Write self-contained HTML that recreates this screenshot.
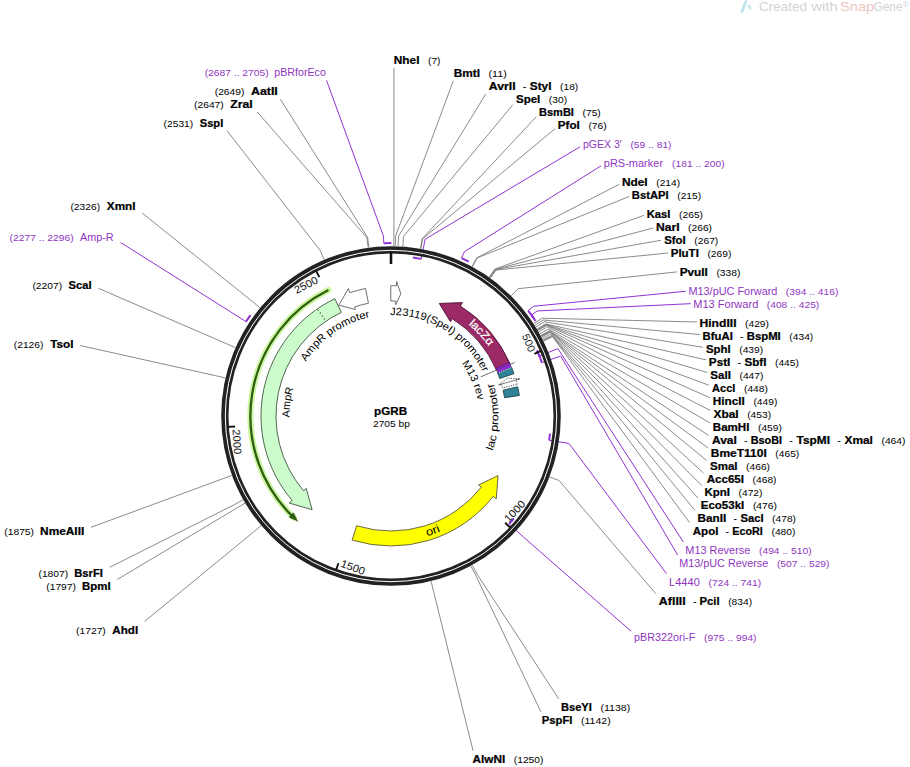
<!DOCTYPE html>
<html><head><meta charset="utf-8"><title>pGRB</title>
<style>html,body{margin:0;padding:0;background:#fff;width:910px;height:767px;overflow:hidden}
svg{display:block;font-family:"Liberation Sans",sans-serif}</style></head>
<body>
<svg width="910" height="767" viewBox="0 0 910 767">
<rect width="910" height="767" fill="#fff"/>
<g>
<path d="M740.2,12.6 L743.2,12.6 L747.6,0.4 L744.8,0.4 Z" fill="#bfe2ee"/>
<path d="M747.4,5.6 L749.2,4.2 L751.6,8.2 L750.2,10.8 Z" fill="#c6e6f1"/>
<text x="759.01" y="11.2" font-size="12.6" fill="#d4d4d4" textLength="48.06" lengthAdjust="spacingAndGlyphs">Created</text>
<text x="811.22" y="11.2" font-size="12.6" fill="#d4d4d4" textLength="26.55" lengthAdjust="spacingAndGlyphs">with</text>
<text x="840.14" y="11.2" font-size="12.6" fill="#ecc4c4" textLength="33.97" lengthAdjust="spacingAndGlyphs">Snap</text>
<text x="873.4" y="11.2" font-size="12.6" fill="#d4d4d4" textLength="29.13" lengthAdjust="spacingAndGlyphs">Gene</text>
<text x="902.8" y="6.6" font-size="8" fill="#d4d4d4">&#174;</text>
</g>
<g fill="none" stroke="#767676" stroke-width="0.85">
<path d="M393.76,246.02 L393.93,236.02 L393.93,67.8"/>
<path d="M395.34,246.06 L395.6,236.06 L453.34,80.8"/>
<path d="M398.11,246.15 L398.52,236.16 L485.88,93.8"/>
<path d="M402.84,246.41 L403.53,236.44 L512.8,104.82"/>
<path d="M420.47,248.57 L422.2,238.72 L536.2,116.88"/>
<path d="M420.85,248.64 L422.61,238.8 L555.1,128.67"/>
<path d="M472.07,266.57 L476.83,257.78 L619.2,184.34"/>
<path d="M472.41,266.76 L477.2,257.98 L629.1,196.53"/>
<path d="M489.16,277.2 L494.93,269.04 L643.9,215.38"/>
<path d="M489.48,277.43 L495.27,269.28 L653.3,228.04"/>
<path d="M489.8,277.66 L495.61,269.52 L661,240.27"/>
<path d="M490.44,278.12 L496.29,270.01 L668,253.04"/>
<path d="M511.17,295.76 L518.24,288.68 L677,271.88"/>
<path d="M533.73,323.65 L542.12,318.21 L696.8,321.97"/>
<path d="M534.79,325.31 L543.25,319.98 L699.9,334.59"/>
<path d="M535.83,326.99 L544.35,321.75 L702.8,347.22"/>
<path d="M537.06,329.01 L545.65,323.9 L706.1,359.87"/>
<path d="M537.46,329.69 L546.08,324.62 L707.2,372.47"/>
<path d="M537.66,330.03 L546.29,324.98 L708.8,385.16"/>
<path d="M537.86,330.37 L546.5,325.34 L710.1,397.77"/>
<path d="M538.65,331.74 L547.34,326.79 L710.1,410.38"/>
<path d="M539.81,333.81 L548.56,328.97 L710.1,423"/>
<path d="M540.75,335.54 L549.56,330.81 L708.8,435.58"/>
<path d="M540.94,335.89 L549.76,331.18 L708.1,448.04"/>
<path d="M541.13,336.24 L549.96,331.55 L706.8,460.58"/>
<path d="M541.5,336.94 L550.35,332.29 L703.5,473.05"/>
<path d="M542.22,338.34 L551.12,333.77 L701.8,485.56"/>
<path d="M542.94,339.75 L551.88,335.26 L698,497.98"/>
<path d="M543.29,340.45 L552.25,336.01 L694.9,510.38"/>
<path d="M543.64,341.16 L552.62,336.76 L689.6,522.64"/>
<path d="M549.71,476.91 L559.05,480.49 L655.7,593.57"/>
<path d="M472.24,565.33 L477.02,574.12 L558.79,698.9"/>
<path d="M470.85,566.08 L475.55,574.91 L540.92,711.8"/>
<path d="M431.09,581.2 L433.45,590.92 L473.04,750.7"/>
<path d="M261.08,525.63 L253.43,532.08 L144.53,621.5"/>
<path d="M245.04,503.16 L236.46,508.28 L117.4,579.42"/>
<path d="M243.06,499.74 L234.35,504.67 L109.7,567.32"/>
<path d="M231.73,475.43 L222.36,478.93 L91,527.3"/>
<path d="M225.32,377.92 L215.57,375.68 L80.2,345.52"/>
<path d="M235.36,347.61 L226.21,343.58 L98.4,288.31"/>
<path d="M259.94,307.73 L252.23,301.36 L142.3,213.13"/>
<path d="M324.15,259.7 L320.21,250.5 L227.11,130.8"/>
<path d="M368.17,247.54 L366.82,237.63 L257.31,112"/>
<path d="M368.95,247.44 L367.65,237.52 L280.36,99.2"/>
</g>
<g fill="none" stroke="#8f33d2" stroke-width="1">
<path d="M421.29,258.89 L425.08,239.26 L580.1,146.78"/>
<path d="M461.61,258.07 L464.47,251.68 L601,165.86"/>
<path d="M528.13,310.53 L533.68,306.26 L685.8,291.24"/>
<path d="M531.49,315.05 L537.17,310.96 L690.7,303.66"/>
<path d="M539.36,356.08 L557.9,348.59 L683.34,542"/>
<path d="M541.86,362.69 L560.71,356.02 L677.69,555.1"/>
<path d="M549.14,440.34 L568.9,443.38 L666.5,573.66"/>
<path d="M509.11,523.93 L523.88,537.42 L631.2,631.29"/>
<path d="M245.97,321.68 L240.11,317.86 L120.6,242.49"/>
<path d="M383.77,243.15 L383.48,236.16 L326.51,80.4"/>
</g>
<circle cx="391" cy="416" r="166.15" fill="none" stroke="#222" stroke-width="7.3"/>
<circle cx="391" cy="416" r="165.7" fill="none" stroke="#fff" stroke-width="1.0"/>
<g fill="none" stroke="#8f33d2" stroke-width="2">
<path d="M412.86,257.5 A160,160 0 0 1 421.29,258.89"/>
<path d="M461.61,258.07 A173,173 0 0 1 468.87,261.52"/>
<path d="M528.13,310.53 A173,173 0 0 1 533.57,318"/>
<path d="M531.49,315.05 A173,173 0 0 1 535.59,321.01"/>
<path d="M536.88,350.27 A160,160 0 0 1 539.36,356.08"/>
<path d="M538.79,354.71 A160,160 0 0 1 541.86,362.69"/>
<path d="M550.02,433.71 A160,160 0 0 1 549.14,440.34"/>
<path d="M514,518.33 A160,160 0 0 1 509.11,523.93"/>
<path d="M245.97,321.68 A173,173 0 0 1 250.51,315.05"/>
<path d="M383.77,243.15 A173,173 0 0 1 391.4,243"/>
</g>
<g stroke="#111" fill="none">
<path d="M391,252 L391,264" stroke-width="2.6"/>
<path d="M540.99,350.92 L534.38,353.78" stroke-width="1.9"/>
<path d="M510.41,527.69 L505.15,522.77" stroke-width="1.9"/>
<path d="M336.07,570 L338.49,563.22" stroke-width="1.9"/>
<path d="M227.86,426.91 L235.05,426.43" stroke-width="1.9"/>
<path d="M316.05,270.69 L319.35,277.09" stroke-width="1.9"/>
</g>
<text transform="translate(533.56,354.14) rotate(66.54)" x="-21.5" y="3.6" font-size="10.6" fill="#111" textLength="18.53" lengthAdjust="spacingAndGlyphs">500</text>
<text transform="translate(504.49,522.15) rotate(-46.91)" x="2.54" y="3.6" font-size="10.6" fill="#111" textLength="24.98" lengthAdjust="spacingAndGlyphs">1000</text>
<text transform="translate(338.79,562.37) rotate(19.63)" x="2.54" y="3.6" font-size="10.6" fill="#111" textLength="24.98" lengthAdjust="spacingAndGlyphs">1500</text>
<text transform="translate(235.95,426.37) rotate(86.17)" x="2.83" y="3.6" font-size="10.6" fill="#111" textLength="25.06" lengthAdjust="spacingAndGlyphs">2000</text>
<text transform="translate(319.77,277.89) rotate(-27.28)" x="-28.02" y="3.6" font-size="10.6" fill="#111" textLength="25.06" lengthAdjust="spacingAndGlyphs">2500</text>
<path d="M328.48,290.06 A140.6,140.6 0 0 0 293.68,517.48" fill="none" stroke="#c9f59c" stroke-width="6.2" stroke-linecap="round" opacity="0.95"/>
<path d="M328.48,290.06 A140.6,140.6 0 0 0 292.8,516.63" fill="none" stroke="#2f5e12" stroke-width="2.3"/>
<path d="M298.2,521.63 L293.48,512.51 L288.64,517.29 Z" fill="#2f5e12"/>
<path d="M334.83,298.76 A130,130 0 0 0 292.15,500.43 L289.11,503.03 L312.09,509.7 L306.21,488.41 L303.55,490.69 A115,115 0 0 1 341.31,312.29 Z" fill="#ccfccc" stroke="#3f553f" stroke-width="0.9" stroke-linejoin="miter"/>
<path d="M317.93,309.69 L325.3,320.4" stroke="#111" stroke-width="1.1" stroke-dasharray="1,2.6"/>
<path d="M365.53,288.52 A130,130 0 0 0 349.75,292.72 L348.35,288.55 L338.84,305.16 L355.37,309.5 L354.51,306.94 A115,115 0 0 1 368.47,303.23 Z" fill="#fff" stroke="#606060" stroke-width="0.9"/>
<path d="M390.77,285.7 A130.3,130.3 0 0 1 396.46,285.81 L396.64,281.42 L400.84,293.75 L395.66,304.7 L395.82,301.1 A115,115 0 0 0 390.8,301 Z" fill="#fff" stroke="#606060" stroke-width="0.9"/>
<path d="M510.13,363.95 A130,130 0 0 0 460.27,305.99 L462.41,302.61 L439.26,303.41 L450.42,321.65 L452.28,318.69 A115,115 0 0 1 496.38,369.96 Z" fill="#9c2a66" stroke="#4a1030" stroke-width="0.9"/>
<path d="M509.21,362.38 A129.8,129.8 0 0 1 511.35,367.38 L497.81,372.85 A115.2,115.2 0 0 0 495.91,368.41 Z" fill="#a023f0" stroke="#3a0a50" stroke-width="0.6"/>
<path d="M511.53,367.3 A130,130 0 0 1 513.92,373.68 L499.73,378.56 A115,115 0 0 0 497.63,372.92 Z" fill="#2f8497" stroke="#173844" stroke-width="0.8"/>
<path d="M511.15,367.7 L498.17,372.92" stroke="#fff" stroke-width="1.0" stroke-dasharray="1,1"/>
<path d="M517.67,386.76 A130,130 0 0 1 519.36,395.44 L504.55,397.81 A115,115 0 0 0 503.05,390.13 Z" fill="#2f8497" stroke="#173844" stroke-width="0.8"/>
<path d="M517.08,384.33 A130,130 0 0 0 515.9,379.95 L519.94,378.78 L507.5,378.15 L498.61,384.94 L501.49,384.11 A115,115 0 0 1 502.54,387.98 Z" fill="#fff" stroke="#222" stroke-width="0.9" stroke-dasharray="1,1.4"/>
<path d="M498.61,384.94 L519.94,378.78" stroke="#555" stroke-width="0.8"/>
<path d="M514.62,362.5 L480.8,376.77" stroke="#444" stroke-width="0.8"/>
<path d="M352.12,540.05 A130,130 0 0 0 493.16,496.39 L496.3,498.87 L498.04,475.58 L478.62,484.95 L481.37,487.12 A115,115 0 0 1 356.61,525.74 Z" fill="#ffff00" stroke="#5a5a3a" stroke-width="0.9"/>
<path id="t1" d="M305.91,361.58 A101,101 0 0 1 477.02,468.92" fill="none"/>
<text font-size="10.6" fill="#000"><textPath href="#t1" textLength="79.81" lengthAdjust="spacingAndGlyphs">AmpR promoter</textPath></text>
<path id="t2" d="M289.51,417.42 A101.5,101.5 0 0 1 492.45,412.81" fill="none"/>
<text font-size="10.6" fill="#000"><textPath href="#t2" textLength="30.03" lengthAdjust="spacingAndGlyphs">AmpR</textPath></text>
<path id="t3" d="M390.12,315 A101,101 0 0 1 393.64,516.97" fill="none"/>
<text font-size="10.6" fill="#000"><textPath href="#t3" textLength="115.04" lengthAdjust="spacingAndGlyphs">J23119(SpeI) promoter</textPath></text>
<path id="t4" d="M468.49,324.63 A119.8,119.8 0 0 1 315.12,508.71" fill="none"/>
<text font-size="11.45" fill="#fff" stroke="#fff" stroke-width="0.25"><textPath href="#t4" textLength="29.7" lengthAdjust="spacingAndGlyphs">lacZα</textPath></text>
<path id="t5" d="M461.65,363.53 A88,88 0 0 1 321.28,469.69" fill="none"/>
<text font-size="10.6" fill="#000"><textPath href="#t5" textLength="40.39" lengthAdjust="spacingAndGlyphs">M13 rev</textPath></text>
<path id="t6" d="M492.7,450.82 A107.5,107.5 0 0 0 289.92,379.41" fill="none"/>
<text font-size="10.6" fill="#000"><textPath href="#t6" textLength="69.05" lengthAdjust="spacingAndGlyphs">lac promoter</textPath></text>
<path id="t7" d="M427.3,536.24 A125.6,125.6 0 0 0 356.8,295.15" fill="none"/>
<text font-size="11.13" fill="#000"><textPath href="#t7" textLength="14.22" lengthAdjust="spacingAndGlyphs">ori</textPath></text>
<text x="374.03" y="414.8" font-size="11.55" font-weight="bold" stroke="#000" stroke-width="0.22" fill="#000" textLength="33.07" lengthAdjust="spacingAndGlyphs">pGRB</text>
<text x="372.99" y="427" font-size="9.54" fill="#000" textLength="36.98" lengthAdjust="spacingAndGlyphs">2705 bp</text>
<g font-family="Liberation Sans, sans-serif">
<text x="393.71" y="63.8" font-size="10.6" font-weight="bold" stroke="#000" stroke-width="0.22" fill="#000" textLength="25.74" lengthAdjust="spacingAndGlyphs">NheI</text>
<text x="428.02" y="63.8" font-size="9.54" fill="#000" textLength="12.47" lengthAdjust="spacingAndGlyphs">(7)</text>
<text x="453.71" y="76.8" font-size="10.6" font-weight="bold" stroke="#000" stroke-width="0.22" fill="#000" textLength="26.28" lengthAdjust="spacingAndGlyphs">BmtI</text>
<text x="488.57" y="76.8" font-size="9.54" fill="#000" textLength="18.2" lengthAdjust="spacingAndGlyphs">(11)</text>
<text x="488.8" y="89.8" font-size="10.6" font-weight="bold" stroke="#000" stroke-width="0.22" fill="#000" textLength="26.76" lengthAdjust="spacingAndGlyphs">AvrII</text>
<text x="522.78" y="89.8" font-size="10.6" fill="#000" textLength="3.59" lengthAdjust="spacingAndGlyphs">-</text>
<text x="529.75" y="89.8" font-size="10.6" font-weight="bold" stroke="#000" stroke-width="0.22" fill="#000" textLength="21.71" lengthAdjust="spacingAndGlyphs">StyI</text>
<text x="560.04" y="89.8" font-size="9.54" fill="#000" textLength="18.2" lengthAdjust="spacingAndGlyphs">(18)</text>
<text x="515.97" y="102.7" font-size="10.6" font-weight="bold" stroke="#000" stroke-width="0.22" fill="#000" textLength="24.33" lengthAdjust="spacingAndGlyphs">SpeI</text>
<text x="548.89" y="102.7" font-size="9.54" fill="#000" textLength="18.2" lengthAdjust="spacingAndGlyphs">(30)</text>
<text x="538.96" y="115.5" font-size="10.6" font-weight="bold" stroke="#000" stroke-width="0.22" fill="#000" textLength="34.97" lengthAdjust="spacingAndGlyphs">BsmBI</text>
<text x="582.56" y="115.5" font-size="9.54" fill="#000" textLength="18.2" lengthAdjust="spacingAndGlyphs">(75)</text>
<text x="557.82" y="128.6" font-size="10.6" font-weight="bold" stroke="#000" stroke-width="0.22" fill="#000" textLength="21.99" lengthAdjust="spacingAndGlyphs">PfoI</text>
<text x="588.4" y="128.6" font-size="9.54" fill="#000" textLength="18.2" lengthAdjust="spacingAndGlyphs">(76)</text>
<text x="582.92" y="148" font-size="10.6" fill="#9035c2" textLength="38.9" lengthAdjust="spacingAndGlyphs">pGEX 3'</text>
<text x="630.45" y="148" font-size="9.54" fill="#9035c2" textLength="41.1" lengthAdjust="spacingAndGlyphs">(59 .. 81)</text>
<text x="603.79" y="166.9" font-size="10.6" fill="#9035c2" textLength="59.27" lengthAdjust="spacingAndGlyphs">pRS-marker</text>
<text x="672.04" y="166.9" font-size="9.54" fill="#9035c2" textLength="52.55" lengthAdjust="spacingAndGlyphs">(181 .. 200)</text>
<text x="621.9" y="186" font-size="10.6" font-weight="bold" stroke="#000" stroke-width="0.22" fill="#000" textLength="25.78" lengthAdjust="spacingAndGlyphs">NdeI</text>
<text x="656.25" y="186" font-size="9.54" fill="#000" textLength="23.92" lengthAdjust="spacingAndGlyphs">(214)</text>
<text x="631.85" y="198.8" font-size="10.6" font-weight="bold" stroke="#000" stroke-width="0.22" fill="#000" textLength="36.8" lengthAdjust="spacingAndGlyphs">BstAPI</text>
<text x="677.27" y="198.8" font-size="9.54" fill="#000" textLength="23.92" lengthAdjust="spacingAndGlyphs">(215)</text>
<text x="646.65" y="217.9" font-size="10.6" font-weight="bold" stroke="#000" stroke-width="0.22" fill="#000" textLength="23.84" lengthAdjust="spacingAndGlyphs">KasI</text>
<text x="679.09" y="217.9" font-size="9.54" fill="#000" textLength="23.92" lengthAdjust="spacingAndGlyphs">(265)</text>
<text x="655.99" y="231.1" font-size="10.6" font-weight="bold" stroke="#000" stroke-width="0.22" fill="#000" textLength="23.55" lengthAdjust="spacingAndGlyphs">NarI</text>
<text x="688.09" y="231.1" font-size="9.54" fill="#000" textLength="23.92" lengthAdjust="spacingAndGlyphs">(266)</text>
<text x="664.17" y="243.8" font-size="10.6" font-weight="bold" stroke="#000" stroke-width="0.22" fill="#000" textLength="21.6" lengthAdjust="spacingAndGlyphs">SfoI</text>
<text x="694.37" y="243.8" font-size="9.54" fill="#000" textLength="23.92" lengthAdjust="spacingAndGlyphs">(267)</text>
<text x="670.73" y="257" font-size="10.6" font-weight="bold" stroke="#000" stroke-width="0.22" fill="#000" textLength="28.12" lengthAdjust="spacingAndGlyphs">PluTI</text>
<text x="707.44" y="257" font-size="9.54" fill="#000" textLength="23.92" lengthAdjust="spacingAndGlyphs">(269)</text>
<text x="679.71" y="275.8" font-size="10.6" font-weight="bold" stroke="#000" stroke-width="0.22" fill="#000" textLength="28.14" lengthAdjust="spacingAndGlyphs">PvuII</text>
<text x="716.43" y="275.8" font-size="9.54" fill="#000" textLength="23.92" lengthAdjust="spacingAndGlyphs">(338)</text>
<text x="688.41" y="295.2" font-size="10.6" fill="#9035c2" textLength="89" lengthAdjust="spacingAndGlyphs">M13/pUC Forward</text>
<text x="785.87" y="295.2" font-size="9.54" fill="#9035c2" textLength="52.55" lengthAdjust="spacingAndGlyphs">(394 .. 416)</text>
<text x="693.29" y="307.9" font-size="10.6" fill="#9035c2" textLength="65.01" lengthAdjust="spacingAndGlyphs">M13 Forward</text>
<text x="766.75" y="307.9" font-size="9.54" fill="#9035c2" textLength="52.55" lengthAdjust="spacingAndGlyphs">(408 .. 425)</text>
<text x="699.49" y="326.6" font-size="10.6" font-weight="bold" stroke="#000" stroke-width="0.22" fill="#000" textLength="37.02" lengthAdjust="spacingAndGlyphs">HindIII</text>
<text x="745.06" y="326.6" font-size="9.54" fill="#000" textLength="23.92" lengthAdjust="spacingAndGlyphs">(429)</text>
<text x="702.64" y="339.6" font-size="10.6" font-weight="bold" stroke="#000" stroke-width="0.22" fill="#000" textLength="30.23" lengthAdjust="spacingAndGlyphs">BfuAI</text>
<text x="740.13" y="339.6" font-size="10.6" fill="#000" textLength="3.59" lengthAdjust="spacingAndGlyphs">-</text>
<text x="746.68" y="339.6" font-size="10.6" font-weight="bold" stroke="#000" stroke-width="0.22" fill="#000" textLength="34.08" lengthAdjust="spacingAndGlyphs">BspMI</text>
<text x="789.37" y="339.6" font-size="9.54" fill="#000" textLength="23.92" lengthAdjust="spacingAndGlyphs">(434)</text>
<text x="705.97" y="352.6" font-size="10.6" font-weight="bold" stroke="#000" stroke-width="0.22" fill="#000" textLength="24.65" lengthAdjust="spacingAndGlyphs">SphI</text>
<text x="739.22" y="352.6" font-size="9.54" fill="#000" textLength="23.92" lengthAdjust="spacingAndGlyphs">(439)</text>
<text x="708.82" y="365.6" font-size="10.6" font-weight="bold" stroke="#000" stroke-width="0.22" fill="#000" textLength="21.51" lengthAdjust="spacingAndGlyphs">PstI</text>
<text x="737.56" y="365.6" font-size="10.6" fill="#000" textLength="3.59" lengthAdjust="spacingAndGlyphs">-</text>
<text x="744.54" y="365.6" font-size="10.6" font-weight="bold" stroke="#000" stroke-width="0.22" fill="#000" textLength="21.9" lengthAdjust="spacingAndGlyphs">SbfI</text>
<text x="775.03" y="365.6" font-size="9.54" fill="#000" textLength="23.92" lengthAdjust="spacingAndGlyphs">(445)</text>
<text x="710.37" y="378.6" font-size="10.6" font-weight="bold" stroke="#000" stroke-width="0.22" fill="#000" textLength="20.56" lengthAdjust="spacingAndGlyphs">SalI</text>
<text x="739.52" y="378.6" font-size="9.54" fill="#000" textLength="23.92" lengthAdjust="spacingAndGlyphs">(447)</text>
<text x="712.02" y="391.7" font-size="10.6" font-weight="bold" stroke="#000" stroke-width="0.22" fill="#000" textLength="23.36" lengthAdjust="spacingAndGlyphs">AccI</text>
<text x="744.01" y="391.7" font-size="9.54" fill="#000" textLength="23.92" lengthAdjust="spacingAndGlyphs">(448)</text>
<text x="712.81" y="404.7" font-size="10.6" font-weight="bold" stroke="#000" stroke-width="0.22" fill="#000" textLength="32.02" lengthAdjust="spacingAndGlyphs">HincII</text>
<text x="753.41" y="404.7" font-size="9.54" fill="#000" textLength="23.92" lengthAdjust="spacingAndGlyphs">(449)</text>
<text x="713.5" y="417.7" font-size="10.6" font-weight="bold" stroke="#000" stroke-width="0.22" fill="#000" textLength="25.12" lengthAdjust="spacingAndGlyphs">XbaI</text>
<text x="747.19" y="417.7" font-size="9.54" fill="#000" textLength="23.92" lengthAdjust="spacingAndGlyphs">(453)</text>
<text x="712.83" y="430.7" font-size="10.6" font-weight="bold" stroke="#000" stroke-width="0.22" fill="#000" textLength="36.58" lengthAdjust="spacingAndGlyphs">BamHI</text>
<text x="758" y="430.7" font-size="9.54" fill="#000" textLength="23.92" lengthAdjust="spacingAndGlyphs">(459)</text>
<text x="712.01" y="443.7" font-size="10.6" font-weight="bold" stroke="#000" stroke-width="0.22" fill="#000" textLength="24.83" lengthAdjust="spacingAndGlyphs">AvaI</text>
<text x="744.08" y="443.7" font-size="10.6" fill="#000" textLength="3.59" lengthAdjust="spacingAndGlyphs">-</text>
<text x="750.66" y="443.7" font-size="10.6" font-weight="bold" stroke="#000" stroke-width="0.22" fill="#000" textLength="31.4" lengthAdjust="spacingAndGlyphs">BsoBI</text>
<text x="789.35" y="443.7" font-size="10.6" fill="#000" textLength="3.59" lengthAdjust="spacingAndGlyphs">-</text>
<text x="796.53" y="443.7" font-size="10.6" font-weight="bold" stroke="#000" stroke-width="0.22" fill="#000" textLength="33.54" lengthAdjust="spacingAndGlyphs">TspMI</text>
<text x="837.32" y="443.7" font-size="10.6" fill="#000" textLength="3.59" lengthAdjust="spacingAndGlyphs">-</text>
<text x="844.52" y="443.7" font-size="10.6" font-weight="bold" stroke="#000" stroke-width="0.22" fill="#000" textLength="28.38" lengthAdjust="spacingAndGlyphs">XmaI</text>
<text x="881.48" y="443.7" font-size="9.54" fill="#000" textLength="23.92" lengthAdjust="spacingAndGlyphs">(464)</text>
<text x="710.81" y="456.6" font-size="10.6" font-weight="bold" stroke="#000" stroke-width="0.22" fill="#000" textLength="55.98" lengthAdjust="spacingAndGlyphs">BmeT110I</text>
<text x="775.36" y="456.6" font-size="9.54" fill="#000" textLength="23.92" lengthAdjust="spacingAndGlyphs">(465)</text>
<text x="709.97" y="469.6" font-size="10.6" font-weight="bold" stroke="#000" stroke-width="0.22" fill="#000" textLength="27.55" lengthAdjust="spacingAndGlyphs">SmaI</text>
<text x="746.11" y="469.6" font-size="9.54" fill="#000" textLength="23.92" lengthAdjust="spacingAndGlyphs">(466)</text>
<text x="706.71" y="482.6" font-size="10.6" font-weight="bold" stroke="#000" stroke-width="0.22" fill="#000" textLength="37.32" lengthAdjust="spacingAndGlyphs">Acc65I</text>
<text x="752.62" y="482.6" font-size="9.54" fill="#000" textLength="23.92" lengthAdjust="spacingAndGlyphs">(468)</text>
<text x="704.53" y="495.6" font-size="10.6" font-weight="bold" stroke="#000" stroke-width="0.22" fill="#000" textLength="25.44" lengthAdjust="spacingAndGlyphs">KpnI</text>
<text x="738.57" y="495.6" font-size="9.54" fill="#000" textLength="23.92" lengthAdjust="spacingAndGlyphs">(472)</text>
<text x="700.73" y="508.6" font-size="10.6" font-weight="bold" stroke="#000" stroke-width="0.22" fill="#000" textLength="43.62" lengthAdjust="spacingAndGlyphs">Eco53kI</text>
<text x="752.94" y="508.6" font-size="9.54" fill="#000" textLength="23.92" lengthAdjust="spacingAndGlyphs">(476)</text>
<text x="697.62" y="521.6" font-size="10.6" font-weight="bold" stroke="#000" stroke-width="0.22" fill="#000" textLength="28.66" lengthAdjust="spacingAndGlyphs">BanII</text>
<text x="733.51" y="521.6" font-size="10.6" fill="#000" textLength="3.59" lengthAdjust="spacingAndGlyphs">-</text>
<text x="740.5" y="521.6" font-size="10.6" font-weight="bold" stroke="#000" stroke-width="0.22" fill="#000" textLength="23.03" lengthAdjust="spacingAndGlyphs">SacI</text>
<text x="772.14" y="521.6" font-size="9.54" fill="#000" textLength="23.92" lengthAdjust="spacingAndGlyphs">(478)</text>
<text x="692.81" y="534.6" font-size="10.6" font-weight="bold" stroke="#000" stroke-width="0.22" fill="#000" textLength="25.57" lengthAdjust="spacingAndGlyphs">ApoI</text>
<text x="725.64" y="534.6" font-size="10.6" fill="#000" textLength="3.59" lengthAdjust="spacingAndGlyphs">-</text>
<text x="732.22" y="534.6" font-size="10.6" font-weight="bold" stroke="#000" stroke-width="0.22" fill="#000" textLength="30.66" lengthAdjust="spacingAndGlyphs">EcoRI</text>
<text x="771.52" y="534.6" font-size="9.54" fill="#000" textLength="23.92" lengthAdjust="spacingAndGlyphs">(480)</text>
<text x="685.3" y="554" font-size="10.6" fill="#9035c2" textLength="65.05" lengthAdjust="spacingAndGlyphs">M13 Reverse</text>
<text x="759.02" y="554" font-size="9.54" fill="#9035c2" textLength="52.55" lengthAdjust="spacingAndGlyphs">(494 .. 510)</text>
<text x="679.21" y="567.1" font-size="10.6" fill="#9035c2" textLength="89.05" lengthAdjust="spacingAndGlyphs">M13/pUC Reverse</text>
<text x="776.94" y="567.1" font-size="9.54" fill="#9035c2" textLength="52.55" lengthAdjust="spacingAndGlyphs">(507 .. 529)</text>
<text x="669.09" y="585.5" font-size="10.6" fill="#9035c2" textLength="30.71" lengthAdjust="spacingAndGlyphs">L4440</text>
<text x="708.54" y="585.5" font-size="9.54" fill="#9035c2" textLength="52.55" lengthAdjust="spacingAndGlyphs">(724 .. 741)</text>
<text x="658.89" y="604.5" font-size="10.6" font-weight="bold" stroke="#000" stroke-width="0.22" fill="#000" textLength="26.85" lengthAdjust="spacingAndGlyphs">AflIII</text>
<text x="692.93" y="604.5" font-size="10.6" fill="#000" textLength="3.59" lengthAdjust="spacingAndGlyphs">-</text>
<text x="699.48" y="604.5" font-size="10.6" font-weight="bold" stroke="#000" stroke-width="0.22" fill="#000" textLength="20.07" lengthAdjust="spacingAndGlyphs">PciI</text>
<text x="728.17" y="604.5" font-size="9.54" fill="#000" textLength="23.92" lengthAdjust="spacingAndGlyphs">(834)</text>
<text x="634" y="640.6" font-size="10.6" fill="#9035c2" textLength="61.25" lengthAdjust="spacingAndGlyphs">pBR322ori-F</text>
<text x="703.98" y="640.6" font-size="9.54" fill="#9035c2" textLength="52.55" lengthAdjust="spacingAndGlyphs">(975 .. 994)</text>
<text x="560.95" y="710.9" font-size="10.6" font-weight="bold" stroke="#000" stroke-width="0.22" fill="#000" textLength="30.97" lengthAdjust="spacingAndGlyphs">BseYI</text>
<text x="600.54" y="710.9" font-size="9.54" fill="#000" textLength="29.65" lengthAdjust="spacingAndGlyphs">(1138)</text>
<text x="541.75" y="723.8" font-size="10.6" font-weight="bold" stroke="#000" stroke-width="0.22" fill="#000" textLength="30.66" lengthAdjust="spacingAndGlyphs">PspFI</text>
<text x="581.01" y="723.8" font-size="9.54" fill="#000" textLength="29.65" lengthAdjust="spacingAndGlyphs">(1142)</text>
<text x="472.61" y="762.7" font-size="10.6" font-weight="bold" stroke="#000" stroke-width="0.22" fill="#000" textLength="32.6" lengthAdjust="spacingAndGlyphs">AlwNI</text>
<text x="513.79" y="762.7" font-size="9.54" fill="#000" textLength="29.65" lengthAdjust="spacingAndGlyphs">(1250)</text>
<text x="112.34" y="633.5" font-size="10.6" font-weight="bold" stroke="#000" stroke-width="0.22" fill="#000" textLength="25.83" lengthAdjust="spacingAndGlyphs">AhdI</text>
<text x="76.12" y="633.5" font-size="9.54" fill="#000" textLength="29.65" lengthAdjust="spacingAndGlyphs">(1727)</text>
<text x="82.05" y="589.6" font-size="10.6" font-weight="bold" stroke="#000" stroke-width="0.22" fill="#000" textLength="28.61" lengthAdjust="spacingAndGlyphs">BpmI</text>
<text x="46.3" y="589.6" font-size="9.54" fill="#000" textLength="29.65" lengthAdjust="spacingAndGlyphs">(1797)</text>
<text x="74.23" y="576.6" font-size="10.6" font-weight="bold" stroke="#000" stroke-width="0.22" fill="#000" textLength="28.72" lengthAdjust="spacingAndGlyphs">BsrFI</text>
<text x="38.47" y="576.6" font-size="9.54" fill="#000" textLength="29.65" lengthAdjust="spacingAndGlyphs">(1807)</text>
<text x="40.07" y="535.3" font-size="10.6" font-weight="bold" stroke="#000" stroke-width="0.22" fill="#000" textLength="44.22" lengthAdjust="spacingAndGlyphs">NmeAIII</text>
<text x="4.35" y="535.3" font-size="9.54" fill="#000" textLength="29.65" lengthAdjust="spacingAndGlyphs">(1875)</text>
<text x="50.18" y="347.9" font-size="10.6" font-weight="bold" stroke="#000" stroke-width="0.22" fill="#000" textLength="23.28" lengthAdjust="spacingAndGlyphs">TsoI</text>
<text x="13.79" y="347.9" font-size="9.54" fill="#000" textLength="29.65" lengthAdjust="spacingAndGlyphs">(2126)</text>
<text x="68.62" y="288.7" font-size="10.6" font-weight="bold" stroke="#000" stroke-width="0.22" fill="#000" textLength="23.03" lengthAdjust="spacingAndGlyphs">ScaI</text>
<text x="32.43" y="288.7" font-size="9.54" fill="#000" textLength="29.65" lengthAdjust="spacingAndGlyphs">(2207)</text>
<text x="79.96" y="241" font-size="10.6" fill="#9035c2" textLength="33.64" lengthAdjust="spacingAndGlyphs">Amp-R</text>
<text x="9.61" y="241" font-size="9.54" fill="#9035c2" textLength="64" lengthAdjust="spacingAndGlyphs">(2277 .. 2296)</text>
<text x="106.84" y="210" font-size="10.6" font-weight="bold" stroke="#000" stroke-width="0.22" fill="#000" textLength="28.75" lengthAdjust="spacingAndGlyphs">XmnI</text>
<text x="70.43" y="210" font-size="9.54" fill="#000" textLength="29.65" lengthAdjust="spacingAndGlyphs">(2326)</text>
<text x="199.79" y="126.8" font-size="10.6" font-weight="bold" stroke="#000" stroke-width="0.22" fill="#000" textLength="23.46" lengthAdjust="spacingAndGlyphs">SspI</text>
<text x="163.59" y="126.8" font-size="9.54" fill="#000" textLength="29.65" lengthAdjust="spacingAndGlyphs">(2531)</text>
<text x="230.26" y="108" font-size="10.6" font-weight="bold" stroke="#000" stroke-width="0.22" fill="#000" textLength="22.46" lengthAdjust="spacingAndGlyphs">ZraI</text>
<text x="194.1" y="108" font-size="9.54" fill="#000" textLength="29.65" lengthAdjust="spacingAndGlyphs">(2647)</text>
<text x="250.95" y="95.2" font-size="10.6" font-weight="bold" stroke="#000" stroke-width="0.22" fill="#000" textLength="26.88" lengthAdjust="spacingAndGlyphs">AatII</text>
<text x="214.75" y="95.2" font-size="9.54" fill="#000" textLength="29.65" lengthAdjust="spacingAndGlyphs">(2649)</text>
<text x="274.33" y="76.4" font-size="10.6" fill="#9035c2" textLength="51.52" lengthAdjust="spacingAndGlyphs">pBRforEco</text>
<text x="204.65" y="76.4" font-size="9.54" fill="#9035c2" textLength="64" lengthAdjust="spacingAndGlyphs">(2687 .. 2705)</text>
</g>
</svg>
</body></html>
